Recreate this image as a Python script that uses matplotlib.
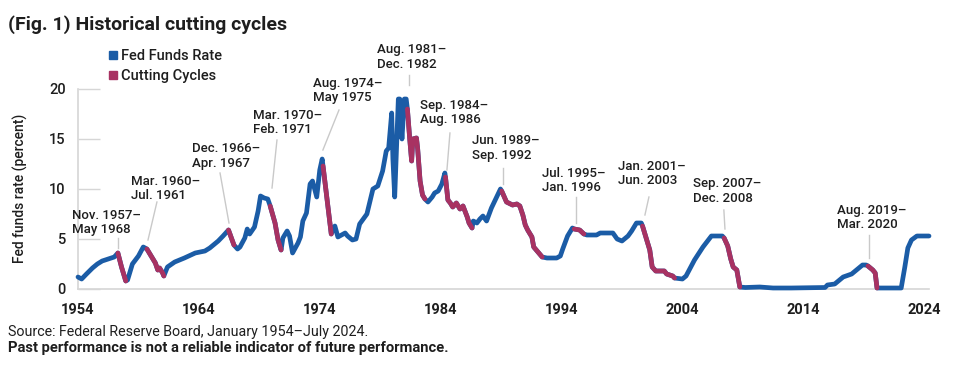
"""
Fed funds rate 1954-2024 with the cutting cycles highlighted.
"""

import matplotlib.pyplot as plt
from matplotlib.patches import Rectangle
import numpy as np

BLUE = "#1b5ca6"
RED = "#a83262"
GREY = "#d6d6d6"
INK = "#1e1e1e"

# effective fed funds rate (decimal year, percent)
YEAR = [
    1954.0, 1954.3, 1954.7, 1955.2, 1955.6, 1956.0, 1956.5, 1957.0, 1957.3, 1957.6,
    1957.95, 1958.1, 1958.5, 1959.0, 1959.4, 1959.7, 1960.1, 1960.4, 1960.6, 1960.75,
    1961.0, 1961.1, 1961.4, 1962.0, 1962.8, 1963.7, 1964.5, 1964.9, 1965.6, 1966.0,
    1966.45, 1966.9, 1967.2, 1967.4, 1967.8, 1968.0, 1968.2, 1968.6, 1968.9, 1969.1,
    1969.4, 1969.7, 1969.9, 1970.3, 1970.55, 1970.8, 1970.95, 1971.3, 1971.5, 1971.75,
    1972.2, 1972.4, 1972.6, 1972.9, 1973.2, 1973.4, 1973.75, 1974.0, 1974.2, 1974.27,
    1974.95, 1975.25, 1975.5, 1976.1, 1976.3, 1976.7, 1977.0, 1977.3, 1977.9, 1978.4,
    1978.8, 1979.2, 1979.5, 1979.7, 1979.95, 1980.05, 1980.2, 1980.35, 1980.5, 1980.62,
    1980.8, 1981.0, 1981.15, 1981.25, 1981.45, 1981.6, 1981.7, 1982.0, 1982.1, 1982.3,
    1982.5, 1982.7, 1982.95, 1983.3, 1983.5, 1983.8, 1984.1, 1984.35, 1984.4, 1984.6,
    1984.8, 1985.0, 1985.3, 1985.6, 1985.85, 1986.2, 1986.35, 1986.6, 1986.7, 1987.0,
    1987.25, 1987.5, 1987.8, 1988.2, 1988.6, 1988.95, 1989.05, 1989.45, 1989.95, 1990.3,
    1990.55, 1990.8, 1991.0, 1991.2, 1991.55, 1991.7, 1992.05, 1992.4, 1992.8, 1993.6,
    1993.9, 1994.1, 1994.5, 1994.9, 1995.05, 1995.5, 1995.85, 1996.1, 1996.9, 1997.2,
    1998.25, 1998.6, 1999.0, 1999.5, 1999.8, 2000.2, 2000.6, 2000.7, 2001.05, 2001.3,
    2001.5, 2001.8, 2002.5, 2002.7, 2003.2, 2003.35, 2004.0, 2004.3, 2005.0, 2005.7,
    2006.4, 2007.3, 2007.45, 2007.75, 2008.0, 2008.2, 2008.5, 2008.75, 2009.2, 2010.4,
    2011.5, 2013.0, 2015.8, 2016.0, 2016.6, 2017.3, 2018.0, 2018.5, 2018.9, 2019.2,
    2019.35, 2019.75, 2019.95, 2020.1, 2022.1, 2022.4, 2022.65, 2022.95, 2023.4, 2024.4,
]
RATE = [
    1.2, 1.0, 1.5, 2.1, 2.5, 2.8, 3.0, 3.2, 3.6, 2.2,
    0.8, 0.9, 2.5, 3.3, 4.2, 4.0, 3.2, 2.6, 1.9, 2.1,
    1.6, 1.3, 2.2, 2.7, 3.1, 3.6, 3.8, 4.1, 4.8, 5.3,
    5.9, 4.4, 4.0, 4.2, 5.1, 6.0, 5.5, 6.2, 7.8, 9.3,
    9.1, 9.0, 8.3, 6.6, 4.9, 3.9, 5.1, 5.8, 5.3, 3.6,
    4.6, 5.2, 6.8, 7.6, 10.5, 10.8, 9.2, 11.9, 13.0, 12.3,
    5.5, 6.3, 5.2, 5.6, 5.3, 4.9, 5.0, 6.5, 7.5, 10.0,
    10.3, 11.8, 13.8, 14.1, 17.6, 13.0, 9.2, 14.0, 19.0, 19.0,
    15.0, 19.0, 19.0, 18.0, 14.9, 12.8, 15.0, 15.1, 14.0, 10.8,
    9.4, 9.0, 8.7, 9.2, 9.6, 9.8, 10.5, 11.6, 11.2, 8.9,
    8.6, 8.2, 8.6, 8.0, 8.3, 7.2, 6.6, 6.1, 6.8, 6.6,
    7.0, 7.3, 6.8, 8.1, 9.1, 10.0, 9.8, 8.7, 8.4, 8.5,
    8.3, 7.4, 6.4, 5.9, 5.2, 4.2, 3.7, 3.2, 3.1, 3.1,
    3.3, 4.0, 5.3, 6.1, 6.0, 5.9, 5.5, 5.4, 5.4, 5.6,
    5.6, 5.0, 4.8, 5.3, 5.8, 6.6, 6.6, 6.3, 4.9, 3.9,
    2.2, 1.8, 1.8, 1.5, 1.3, 1.1, 1.0, 1.3, 2.9, 4.2,
    5.3, 5.3, 5.1, 4.3, 3.0, 2.2, 1.9, 0.2, 0.15, 0.2,
    0.1, 0.1, 0.15, 0.4, 0.5, 1.2, 1.5, 2.0, 2.4, 2.4,
    2.3, 1.9, 1.6, 0.1, 0.1, 2.2, 4.1, 4.9, 5.3, 5.3,
]

# cutting cycles as they sit on the chart's time axis
CUT_START = [1957.3, 1959.7, 1966.45, 1969.9, 1974.27, 1981.25,
             1984.4, 1989.05, 1995.05, 2000.7, 2007.45, 2019.35]
CUT_END = [1957.95, 1961.1, 1966.9, 1970.8, 1974.95, 1982.7,
           1986.6, 1992.4, 1995.85, 2003.35, 2008.75, 2020.1]
CUT_LABELS = [
    "Nov. 1957–\nMay 1968", "Mar. 1960–\nJul. 1961", "Dec. 1966–\nApr. 1967",
    "Mar. 1970–\nFeb. 1971", "Aug. 1974–\nMay 1975", "Aug. 1981–\nDec. 1982",
    "Sep. 1984–\nAug. 1986", "Jun. 1989–\nSep. 1992", "Jul. 1995–\nJan. 1996",
    "Jan. 2001–\nJun. 2003", "Sep. 2007–\nDec. 2008", "Aug. 2019–\nMar. 2020",
]

X_TICKS = [1954, 1964, 1974, 1984, 1994, 2004, 2014, 2024]
Y_TICKS = [0, 5, 10, 15, 20]

# label layout in data units: (text left x, text middle y), leader (x0, y0, x1, y1)
LABEL_XY = [(1953.5, 6.65), (1958.38, 10.05), (1963.43, 13.3), (1968.47, 16.65),
            (1973.44, 19.8), (1978.73, 23.2), (1982.29, 17.6), (1986.59, 14.1),
            (1992.38, 10.85), (1998.67, 11.55), (2004.87, 9.8), (2016.78, 7.15)]
LEADERS = [(1957.31, 5.1, 1957.31, 4.1), (1960.53, 8.7, 1959.79, 4.9),
           (1965.75, 11.6, 1966.49, 6.6), (1970.46, 14.9, 1970.05, 10.1),
           (1975.59, 17.9, 1974.26, 13.9), (1981.38, 21.4, 1981.38, 20.4),
           (1984.77, 15.6, 1984.52, 11.9), (1989.15, 12.1, 1989.15, 10.5),
           (1995.19, 9.2, 1995.19, 6.6), (2001.23, 9.2, 2000.90, 7.4),
           (2007.43, 7.9, 2007.52, 6.0), (2019.43, 5.4, 2019.43, 3.1)]

ROBOTO = ["Roboto", "DejaVu Sans"]

W, H = 955, 365
fig = plt.figure(figsize=(W / 100, H / 100), dpi=100)
ax = fig.add_axes([78 / W, 1 - 289 / H, 851 / W, 200 / H])

years = np.array(YEAR)
rates = np.array(RATE)
line_kw = dict(linewidth=3.4, solid_capstyle="round", solid_joinstyle="round", clip_on=False)
ax.plot(years, rates, color=BLUE, zorder=3, **line_kw)
for start, end in zip(CUT_START, CUT_END):
    mask = (years >= start) & (years <= end)
    ax.plot(years[mask], rates[mask], color=RED, zorder=4, **line_kw)

for text, (tx, ty), (x0, y0, x1, y1) in zip(CUT_LABELS, LABEL_XY, LEADERS):
    ax.text(tx, ty, text, ha="left", va="center", fontsize=9.5, fontweight="medium",
            family=ROBOTO, color=INK, linespacing=1.1, clip_on=False)
    ax.plot([x0, x1], [y0, y1], color="#c9c9c9", linewidth=1.0, clip_on=False, zorder=2)

ax.set_xlim(1954, 2024.4)
ax.set_ylim(0, 20)
ax.set_xticks(X_TICKS)
ax.set_yticks(Y_TICKS)
ax.tick_params(axis="x", length=0, pad=10)
ax.tick_params(axis="y", direction="in", length=16, width=1, color=GREY, pad=9)
for lbl in ax.get_xticklabels():
    lbl.set_family(ROBOTO)
    lbl.set_fontsize(10.5)
    lbl.set_fontweight("bold")
    lbl.set_color(INK)
for lbl in ax.get_yticklabels():
    lbl.set_family(ROBOTO)
    lbl.set_fontsize(10.5)
    lbl.set_fontweight("medium")
    lbl.set_color(INK)

for side in ("top", "right"):
    ax.spines[side].set_visible(False)
for side in ("left", "bottom"):
    ax.spines[side].set_color(GREY)
    ax.spines[side].set_linewidth(1.2)

fig.text(20 / W, 1 - 188 / H, "Fed funds rate (percent)", rotation=90, ha="center",
         va="center", fontsize=10, fontweight="medium", family=ROBOTO, color=INK)

# title and notes
fig.text(8 / W, 1 - 29.5 / H, "(Fig. 1) Historical cutting cycles", ha="left",
         va="baseline", fontsize=14, fontweight="bold", family=ROBOTO, color=INK)
fig.text(8 / W, 1 - 336 / H, "Source: Federal Reserve Board, January 1954–July 2024.",
         ha="left", va="baseline", fontsize=10.3, family=ROBOTO, color=INK)
fig.text(8 / W, 1 - 352 / H, "Past performance is not a reliable indicator of future performance.",
         ha="left", va="baseline", fontsize=10.6, fontweight="bold", family=ROBOTO, color=INK)

# legend
for (name, color), base in zip([("Fed Funds Rate", BLUE), ("Cutting Cycles", RED)], [60, 80]):
    fig.patches.append(Rectangle((109 / W, 1 - (base - 1) / H), 8 / W, 8 / H,
                                 transform=fig.transFigure, color=color))
    fig.text(121 / W, 1 - base / H, name, ha="left", va="baseline", fontsize=10.5,
             fontweight="medium", family=ROBOTO, color=INK)

fig.savefig("out.png", dpi=100)
